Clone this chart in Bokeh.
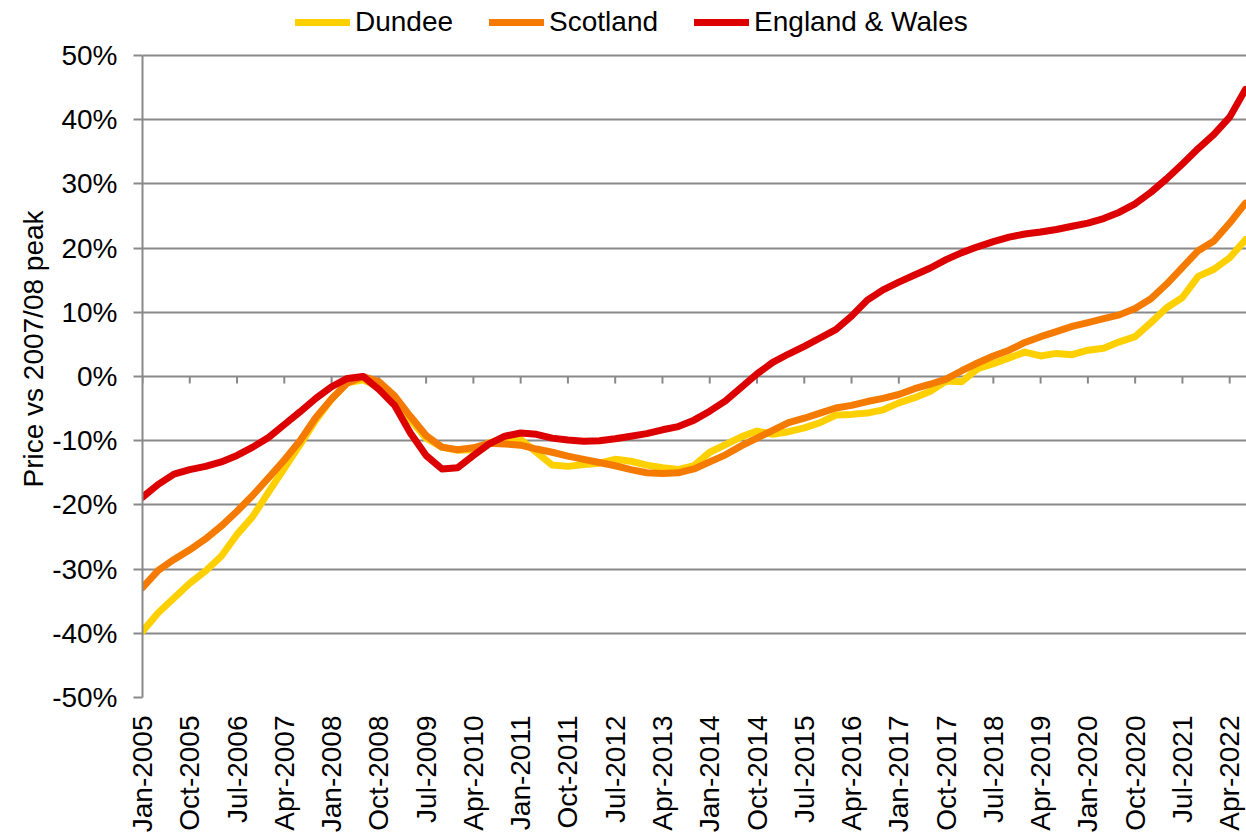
import math
from bokeh.plotting import figure
from bokeh.models import (Range1d, FixedTicker, PrintfTickFormatter, Legend, LegendItem)
from bokeh.embed import file_html
from bokeh.resources import INLINE

# Month index (0 = Jan-2005), quarterly readings
months = list(range(0, 211, 3))

dundee = [-39.7, -36.8, -34.5, -32.2, -30.3, -28.0, -24.6, -21.8, -18.0, -14.3,
          -10.6, -6.8, -3.5, -1.0, -0.5, -1.6, -3.3, -6.7, -9.6, -11.0,
          -11.5, -11.4, -10.3, -9.9, -9.8, -11.8, -13.8, -14.0, -13.7, -13.5,
          -12.9, -13.2, -13.8, -14.2, -14.5, -13.9, -11.8, -10.6, -9.4, -8.5,
          -9.0, -8.6, -8.0, -7.2, -6.0, -5.9, -5.7, -5.2, -4.1, -3.3,
          -2.3, -0.7, -0.8, 1.2, 2.0, 2.9, 3.8, 3.2, 3.6, 3.4,
          4.1, 4.4, 5.4, 6.2, 8.4, 10.7, 12.3, 15.6, 16.7, 18.5,
          21.3]

scotland = [-32.9, -30.2, -28.5, -27.0, -25.3, -23.3, -21.0, -18.5, -15.8, -13.0,
            -10.0, -6.4, -3.5, -1.0, 0.0, -0.8, -3.0, -6.2, -9.2, -11.0,
            -11.4, -11.1, -10.4, -10.5, -10.7, -11.3, -11.8, -12.4, -12.9, -13.4,
            -13.9, -14.5, -15.0, -15.1, -15.0, -14.4, -13.3, -12.2, -10.8, -9.6,
            -8.4, -7.2, -6.5, -5.7, -4.9, -4.5, -3.9, -3.4, -2.8, -1.9,
            -1.2, -0.4, 0.9, 2.1, 3.2, 4.1, 5.3, 6.2, 7.0, 7.8,
            8.4, 9.0, 9.6, 10.6, 12.1, 14.4, 17.0, 19.6, 21.1, 23.9,
            27.0]

england_wales = [-18.8, -16.8, -15.2, -14.5, -14.0, -13.3, -12.3, -11.0, -9.5, -7.5,
                 -5.5, -3.4, -1.6, -0.3, 0.0, -2.0, -4.5, -8.8, -12.3, -14.4,
                 -14.2, -12.3, -10.5, -9.3, -8.8, -9.0, -9.6, -9.9, -10.1, -10.0,
                 -9.7, -9.3, -8.9, -8.3, -7.8, -6.8, -5.4, -3.8, -1.7, 0.4,
                 2.2, 3.5, 4.7, 6.0, 7.3, 9.4, 11.9, 13.5, 14.7, 15.8,
                 16.9, 18.2, 19.3, 20.2, 21.0, 21.7, 22.2, 22.5, 22.9, 23.4,
                 23.9, 24.6, 25.6, 26.9, 28.7, 30.8, 33.1, 35.5, 37.7, 40.4,
                 44.7]

tick_labels = ["Jan-2005", "Oct-2005", "Jul-2006", "Apr-2007", "Jan-2008", "Oct-2008",
               "Jul-2009", "Apr-2010", "Jan-2011", "Oct-2011", "Jul-2012", "Apr-2013",
               "Jan-2014", "Oct-2014", "Jul-2015", "Apr-2016", "Jan-2017", "Oct-2017",
               "Jul-2018", "Apr-2019", "Jan-2020", "Oct-2020", "Jul-2021", "Apr-2022"]
tick_pos = [i * 9 for i in range(len(tick_labels))]

y_ticks = list(range(-50, 51, 10))

FONT = "Liberation Sans"
GRID = "#898989"

# frame extends to the top edge so the legend can sit inside it
Y_TOP = 50 + 55 / 6.42

p = figure(width=1246, height=839, output_backend="svg", toolbar_location=None,
           x_range=Range1d(0, 210.2), y_range=Range1d(-50, Y_TOP),
           min_border_left=142, min_border_right=0, min_border_top=0,
           min_border_bottom=142)
p.outline_line_color = None
p.background_fill_color = "white"
p.border_fill_color = "white"

# grid
p.xgrid.grid_line_color = None
p.ygrid.ticker = FixedTicker(ticks=y_ticks)
p.ygrid.grid_line_color = GRID
p.ygrid.grid_line_width = 2

# y axis
ya = p.yaxis[0]
ya.ticker = FixedTicker(ticks=y_ticks)
ya.bounds = (y_ticks[0], y_ticks[-1])
ya.formatter = PrintfTickFormatter(format="%d%%")
ya.axis_line_color = GRID
ya.axis_line_width = 2
ya.major_tick_line_color = GRID
ya.major_tick_line_width = 2
ya.major_tick_out = 9
ya.major_tick_in = 0
ya.minor_tick_line_color = None
ya.major_label_text_font = FONT
ya.major_label_text_font_size = "28px"
ya.major_label_text_color = "black"
ya.major_label_standoff = 16
ya.axis_label = "Price vs 2007/08 peak"
ya.axis_label_text_font = FONT
ya.axis_label_text_font_size = "28px"
ya.axis_label_text_font_style = "normal"
ya.axis_label_text_color = "black"
ya.axis_label_standoff = 0

# x axis
xa = p.xaxis[0]
xa.ticker = FixedTicker(ticks=tick_pos)
xa.major_label_overrides = {pos: lab for pos, lab in zip(tick_pos, tick_labels)}
xa.major_label_orientation = math.pi / 2
xa.axis_line_color = None
xa.major_tick_line_color = None
xa.minor_tick_line_color = None
xa.major_label_text_font = FONT
xa.major_label_text_font_size = "28px"
xa.major_label_text_color = "black"
xa.major_label_standoff = 12

# tick marks on the zero line
p.segment(x0=tick_pos, y0=[0] * len(tick_pos), x1=tick_pos, y1=[-1.1] * len(tick_pos),
          line_color=GRID, line_width=2)

LW = 7
r_d = p.line(months, dundee, line_color="#FFD000", line_width=LW,
             line_join="round", line_cap="round")
r_s = p.line(months, scotland, line_color="#F57A00", line_width=LW,
             line_join="round", line_cap="round")
r_e = p.line(months, england_wales, line_color="#DC0000", line_width=LW,
             line_join="round", line_cap="round")

legend = Legend(items=[LegendItem(label="Dundee", renderers=[r_d]),
                       LegendItem(label="Scotland", renderers=[r_s]),
                       LegendItem(label="England & Wales", renderers=[r_e])],
                orientation="horizontal", location=(153, 659),
                label_text_font=FONT, label_text_font_size="28px",
                label_text_color="black",
                glyph_width=55, glyph_height=30, label_standoff=5, spacing=36,
                padding=0, margin=0, border_line_color=None,
                background_fill_alpha=0)
p.add_layout(legend, "center")

open("out.html", "w").write(file_html(p, INLINE))
